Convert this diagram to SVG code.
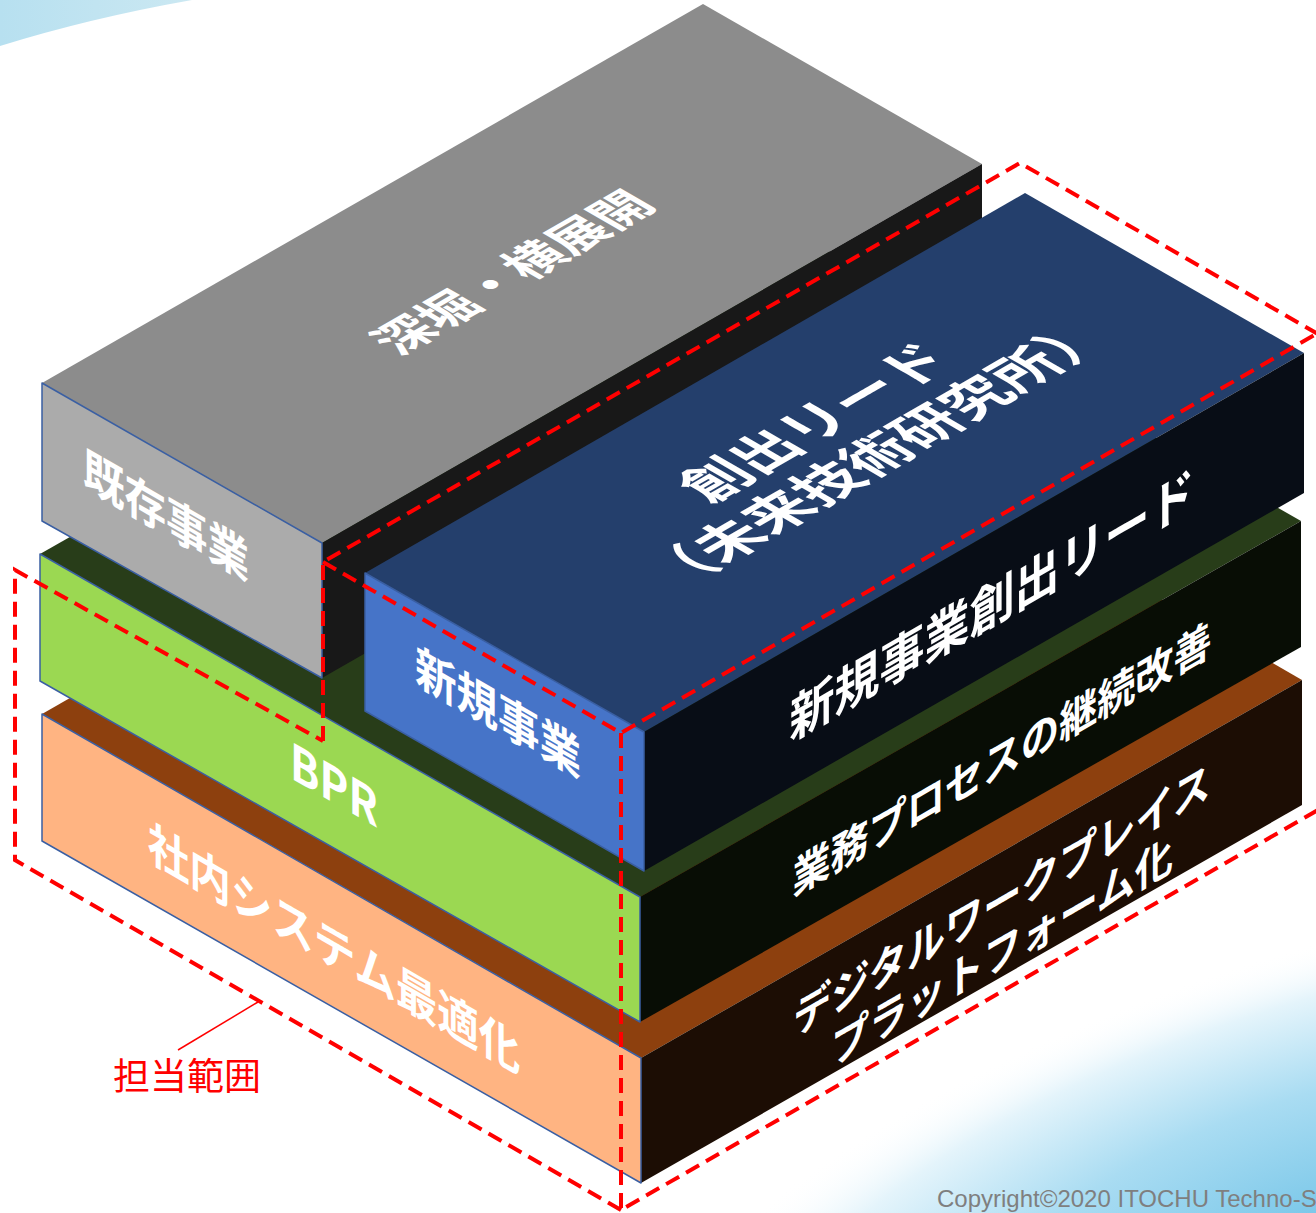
<svg xmlns="http://www.w3.org/2000/svg" width="1316" height="1213" viewBox="0 0 1316 1213">
<style>
.lbl{font-family:"Noto Sans CJK JP","Noto Sans",sans-serif;font-weight:bold;fill:#FFFFFF;text-anchor:middle}
.front{stroke:#3A5FA3;stroke-width:1.5;stroke-linejoin:round}
.dash{fill:none;stroke:#FF0000;stroke-width:4;stroke-dasharray:15 8}
</style>
<defs>
<linearGradient id="tl" x1="0" y1="0" x2="1" y2="0">
<stop offset="0" stop-color="#B7E0F0"/><stop offset="1" stop-color="#CBE8F2"/>
</linearGradient>
<radialGradient id="br" gradientUnits="userSpaceOnUse" cx="1316" cy="1213" r="720" gradientTransform="translate(1316 1213) rotate(-18) scale(1 0.36) translate(-1316 -1213)">
<stop offset="0" stop-color="#7CC8E9"/><stop offset="0.45" stop-color="#A9DCF2"/><stop offset="0.8" stop-color="#E4F4FB"/><stop offset="1" stop-color="#FFFFFF" stop-opacity="0"/>
</radialGradient>
</defs>
<rect width="1316" height="1213" fill="#FFFFFF"/>
<rect x="400" y="800" width="916" height="413" fill="url(#br)"/>
<path d="M0 0 L192 0 Q90 18 0 46 Z" fill="url(#tl)"/>

<g id="layer-digital">
<polygon points="42,714 703,336 1302,680 641,1058" fill="#8D400E"/>
<polygon points="641,1058 1302,680 1302,805 641,1183" fill="#1C0D04"/>
<polygon class="front" points="42,714 641,1058 641,1183 42,841" fill="#FFB482"/>
<text class="lbl" font-size="48" transform="matrix(0.866,0.5,0,1,334,948)" y="18">社内システム最適化</text>
<g transform="matrix(0.866,-0.5,0,1,1002,926)">
<text class="lbl" font-size="44" y="-10">デジタルワークプレイス</text>
<text class="lbl" font-size="44" y="42">プラットフォーム化</text>
</g>
</g>

<g id="layer-bpr">
<polygon points="40,554 701,178 1301,521 640,897" fill="#283D19"/>
<polygon points="640,897 1301,521 1301,647 640,1022" fill="#080D05"/>
<polygon class="front" points="40,554 640,897 640,1022 40,681" fill="#9BD852"/>
<text class="lbl" font-size="50" transform="matrix(0.866,0.5,0,1,334,785)" y="18">BPR</text>
<text class="lbl" font-size="44" transform="matrix(0.866,-0.5,0,1,1002,758)" y="17">業務プロセスの継続改善</text>
</g>

<g id="block-existing">
<polygon points="42,383 703,4 982,164 322,543" fill="#8C8C8C"/>
<polygon points="322,543 982,164 982,300 322,678" fill="#181818"/>
<polygon class="front" points="42,383 322,543 322,678 42,521" fill="#ABABAB"/>
<text class="lbl" font-size="48" transform="matrix(0.866,0.5,0,1,166,515)" y="18">既存事業</text>
<text class="lbl" font-size="50" transform="matrix(0.866,-0.5,0.866,0.5,512,272)" y="19">深堀・横展開</text>
</g>

<g id="block-new">
<polygon points="365,573 1025,193 1304,353 644,732" fill="#243F6C"/>
<polygon points="644,732 1304,353 1304,493 644,871" fill="#080D16"/>
<polygon class="front" points="365,573 644,732 644,871 365,711" fill="#4674C8"/>
<text class="lbl" font-size="48" transform="matrix(0.866,0.5,0,1,498,712)" y="18">新規事業</text>
<text class="lbl" font-size="52" transform="matrix(0.866,-0.5,0,1,992,604)" y="20">新規事業創出リード</text>
<g transform="matrix(0.866,-0.5,0.866,0.5,845,438)">
<text class="lbl" font-size="57" x="-2" y="-12">創出リード</text>
<text class="lbl" font-size="57" x="2" y="56">（未来技術研究所）</text>
</g>
</g>

<g id="connectors">
<path class="dash" d="M323 741 L323 562 L1020 163 L1318 334"/>
<path class="dash" d="M323 562 L621 733 L1318 333"/>
<path class="dash" d="M621 733 L621 1210 L1318 810"/>
<path class="dash" d="M621 1210 L15 860 L15 570 L323 741"/>
<line x1="258" y1="1002" x2="178" y2="1050" stroke="#FF0000" stroke-width="1.5"/>
</g>

<g id="label-scope">
<text x="113" y="1090" font-family="Noto Sans CJK JP,sans-serif" font-size="37" fill="#FF0000">担当範囲</text>
</g>
<text x="937" y="1207" font-family="Liberation Sans,Arial,sans-serif" font-size="24" fill="#7F7F7F">Copyright©2020 ITOCHU Techno-S</text>
</svg>
